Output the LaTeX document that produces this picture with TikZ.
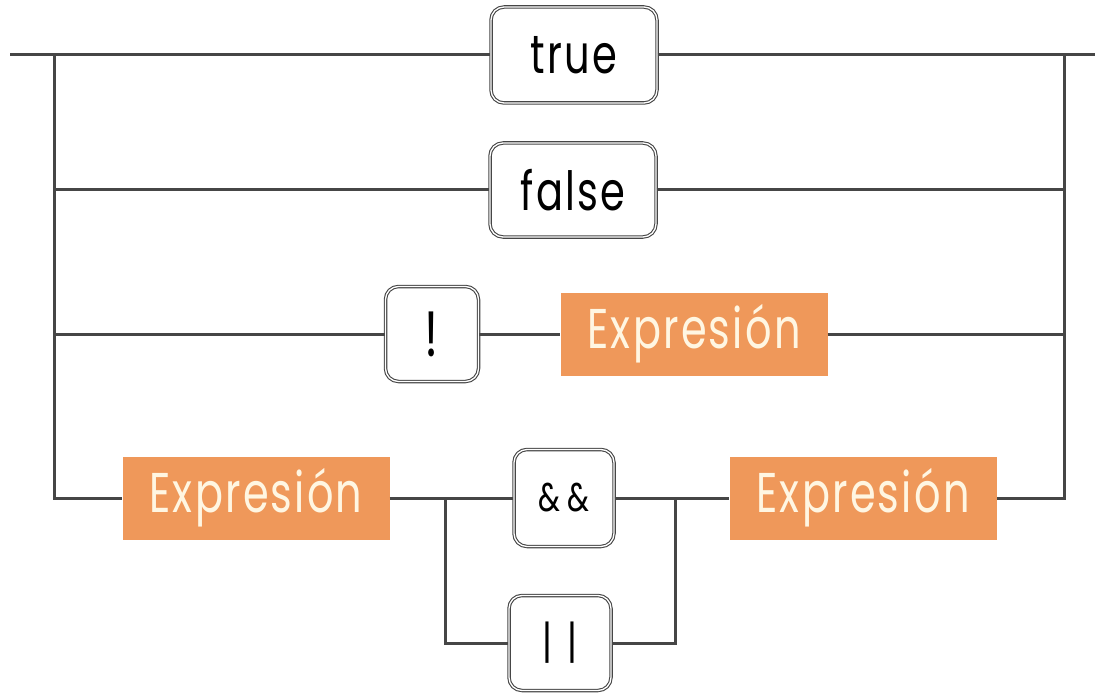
\documentclass[tikz,border=0pt]{standalone}
\usepackage{fontspec}
\usepackage{tikz}
\usetikzlibrary{positioning}
\newfontfamily\railfont{Poppins}[FakeStretch=0.74,LetterSpace=4]
\definecolor{railcol}{RGB}{70,70,70}
\definecolor{exprcol}{RGB}{239,152,90}
\definecolor{exprtxt}{RGB}{255,246,226}
\tikzset{
  kw/.style={draw=railcol,double=white,double distance=1.3pt,line width=1.1pt,rounded corners=13pt,fill=white,inner sep=0pt,font=\railfont\fontsize{54}{56}\selectfont},
  ex/.style={fill=exprcol,text=exprtxt,minimum width=267pt,minimum height=83pt,inner sep=0pt,font=\railfont\fontsize{56}{58}\selectfont},
  ln/.style={-,draw=railcol,line width=3pt}
}
\begin{document}
\begin{tikzpicture}[x=1pt,y=-1pt]
  \useasboundingbox (0,0) rectangle (1105,695);
  % keyword and expression boxes
  \node[kw,minimum width=166pt,minimum height=96pt] (tru) at (574,55){true};
  \node[kw,minimum width=166pt,minimum height=94pt] (fls) at (573,190){false};
  \node[kw,minimum width=93pt,minimum height=95pt,font=\railfont\fontsize{64}{66}\selectfont] (nt) at (432,334){!};
  \node[ex] (e1) at (694,334){Expresión};
  \node[ex] (e2) at (256,498){Expresión};
  \node[kw,minimum width=100pt,minimum height=97pt,font=\railfont\fontsize{40}{42}\selectfont] (and) at (564,498){\&\,\&};
  \node[kw,minimum width=102pt,minimum height=95pt,font=\railfont\fontsize{46}{48}\selectfont] (or) at (560,643){|\,\,|};
  \node[ex] (e3) at (863,498){Expresión};
  % rails
  \coordinate (start) at (10,55);  \coordinate (finish) at (1095,55);
  \coordinate (lt) at (54,55);     \coordinate (rt) at (1064,55);
  \coordinate (lf) at (lt |- fls); \coordinate (rf) at (rt |- fls);
  \coordinate (ln) at (lt |- nt);  \coordinate (rn) at (rt |- e1);
  \coordinate (lb) at (54,498);    \coordinate (rb) at (1064,498);
  \coordinate (sl) at (445,498);   \coordinate (sr) at (675,498);
  \foreach \a/\b in {start/tru,tru/finish,lf/fls,fls/rf,ln/nt,nt/e1,e1/rn,e2/and,and/e3}{\draw[ln](\a)--(\b);}
  \draw[ln] (lt) -- (lb) -- (e2);
  \draw[ln] (rt) -- (rb) -- (e3);
  \draw[ln] (sl) |- (or);
  \draw[ln] (sr) |- (or);
\end{tikzpicture}
\end{document}
